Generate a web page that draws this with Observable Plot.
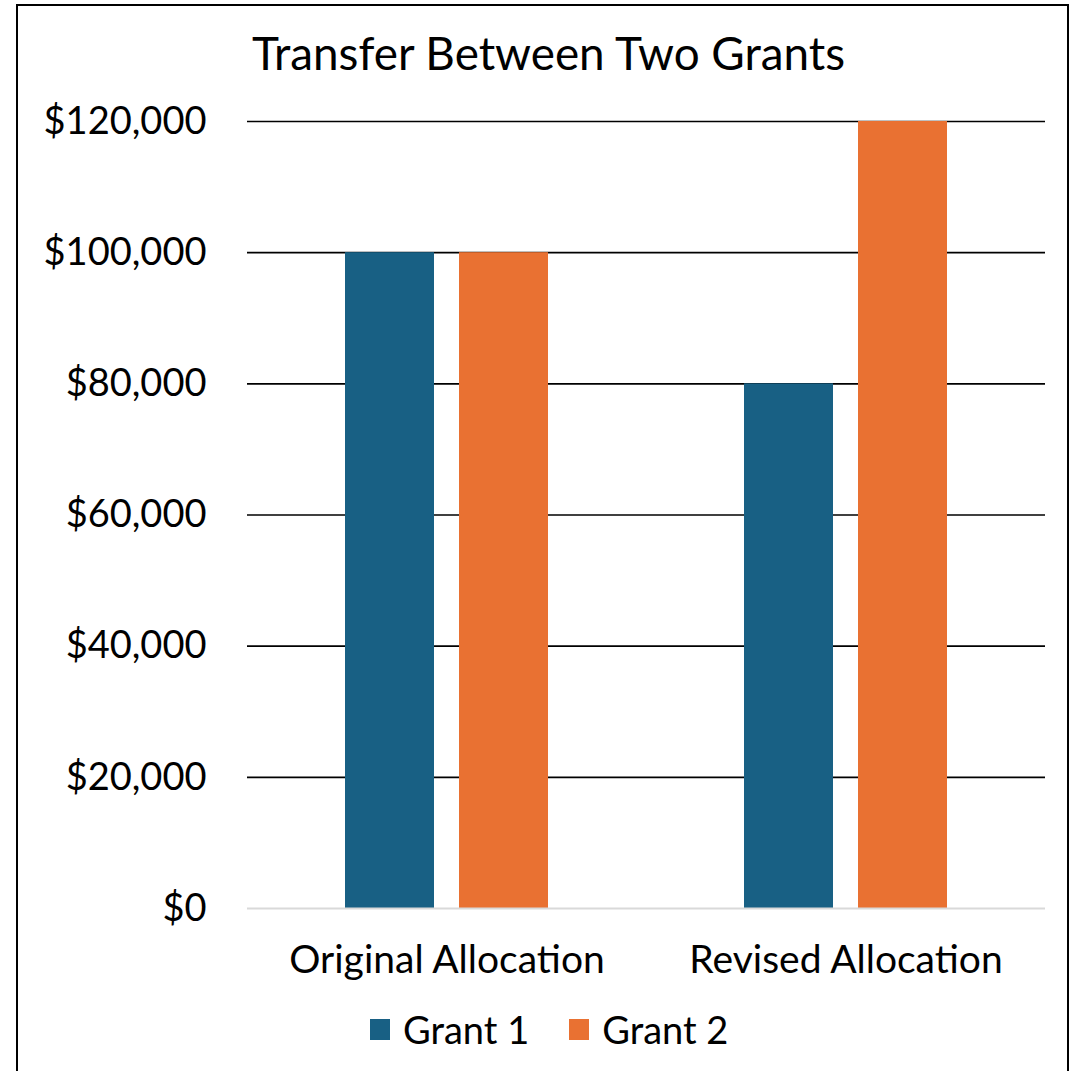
<!DOCTYPE html>
<html>
<head>
<meta charset="utf-8">
<script src="https://cdn.jsdelivr.net/npm/d3@7"></script>
<script src="https://cdn.jsdelivr.net/npm/@observablehq/plot@0.6"></script>
<style>
  html, body { margin: 0; padding: 0; background: #fff; }
  #wrap { position: relative; width: 1076px; height: 1071px; overflow: hidden; font-family: Lato, "Open Sans", sans-serif; color: #000; }
  #frame { position: absolute; left: 16px; top: 4px; width: 1053px; height: 1100px; border: 2.5px solid #000; box-sizing: border-box; }
  #title { position: absolute; left: 252px; top: 25px; font-size: 45.8px; line-height: 56px; white-space: nowrap; }
  #chart { position: absolute; left: 0; top: 0; }
  #legend { position: absolute; left: 370px; top: 1007px; height: 44px; display: flex; align-items: center; font-size: 38px; white-space: nowrap; }
  .sw { width: 20px; height: 21px; display: inline-block; margin-right: 13px; }
  .item { display: flex; align-items: center; }
</style>
</head>
<body>
<div id="wrap">
  <div id="frame"></div>
  <div id="title"></div>
  <div id="chart"></div>
  <div id="legend"></div>
</div>
<script>
const title = "Transfer Between Two Grants";
const categories = ["Original Allocation", "Revised Allocation"];
const grants = ["Grant 1", "Grant 2"];
const grant1Values = [100000, 80000];
const grant2Values = [100000, 120000];
const colors = ["#186084", "#e97132"];
const yTicks = [0, 20000, 40000, 60000, 80000, 100000, 120000];

const data = [];
categories.forEach((c, i) => {
  data.push({category: c, grant: grants[0], value: grant1Values[i]});
  data.push({category: c, grant: grants[1], value: grant2Values[i]});
});

document.getElementById("title").textContent = title;

const fmt = d => "$" + d3.format(",")(d);

const chart = Plot.plot({
  width: 1076,
  height: 1000,
  marginTop: 121,
  marginBottom: 92,
  marginLeft: 247,
  marginRight: 31,
  style: {fontFamily: "Lato, 'Open Sans', sans-serif", color: "#000", background: "transparent", overflow: "visible"},
  fx: {domain: categories, padding: 0, axis: null, label: null},
  x: {domain: grants, paddingInner: 0.22, paddingOuter: 0.86, axis: null, label: null},
  y: {domain: [0, 120000], axis: null, label: null},
  color: {domain: grants, range: colors},
  marks: [
    Plot.ruleY(yTicks.filter(d => d > 0), {stroke: "#000", strokeWidth: 1.7}),
    Plot.barY(data, {fx: "category", x: "grant", y: "value", fill: "grant"}),
    Plot.ruleY([0], {stroke: "#d9d9d9", strokeWidth: 2}),
    Plot.axisY({ticks: yTicks, tickSize: 0, tickPadding: 41, tickFormat: fmt, fontSize: 38, label: null}),
    Plot.axisFx({anchor: "bottom", tickSize: 0, tickPadding: 37, fontSize: 39, label: null})
  ]
});
document.getElementById("chart").appendChild(chart);

const legend = document.getElementById("legend");
grants.forEach((g, i) => {
  const item = document.createElement("div");
  item.className = "item";
  if (i > 0) item.style.marginLeft = "40px";
  const sw = document.createElement("span");
  sw.className = "sw";
  sw.style.background = colors[i];
  const t = document.createElement("span");
  t.textContent = g;
  item.appendChild(sw);
  item.appendChild(t);
  legend.appendChild(item);
});
</script>
</body>
</html>
